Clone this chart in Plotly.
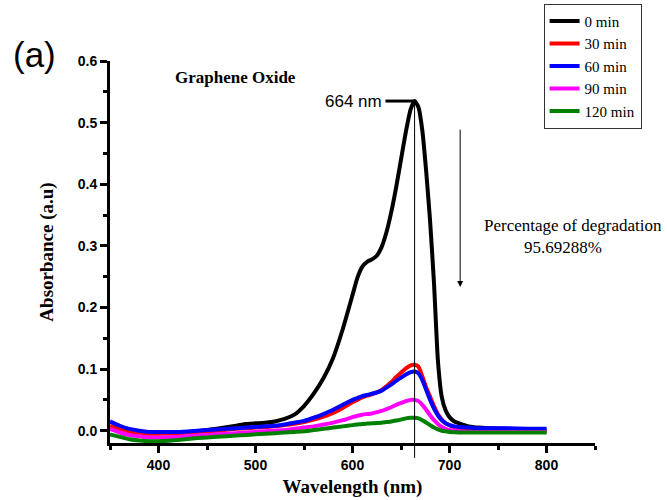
import plotly.graph_objects as go

wavelength = [350, 360, 370, 380, 390, 400, 420, 440, 460, 480, 490, 500, 510, 520, 530, 540,
              550, 560, 570, 580, 590, 600, 605, 610, 615, 620, 625, 630, 635, 640, 645, 650,
              655, 660, 664, 668, 672, 676, 680, 684, 688, 692, 696, 700, 705, 710, 720, 730,
              740, 760, 780, 800]

abs_0min = [0.005, 0.0, -0.003, -0.004, -0.004, -0.004, -0.003, -0.001, 0.003, 0.008, 0.011, 0.012,
            0.013, 0.015, 0.019, 0.026, 0.040, 0.060, 0.085, 0.118, 0.165, 0.220, 0.248, 0.266,
            0.274, 0.278, 0.284, 0.298, 0.322, 0.355, 0.395, 0.440, 0.485, 0.522, 0.535, 0.525,
            0.487, 0.420, 0.340, 0.240, 0.115, 0.055, 0.033, 0.022, 0.015, 0.012, 0.007, 0.005,
            0.004, 0.003, 0.002, 0.002]

abs_30min = [0.008, 0.002, -0.002, -0.004, -0.005, -0.005, -0.004, -0.002, 0.0, 0.003, 0.004, 0.005,
             0.006, 0.007, 0.009, 0.011, 0.014, 0.018, 0.023, 0.029, 0.037, 0.046, 0.050, 0.054,
             0.057, 0.059, 0.062, 0.066, 0.072, 0.079, 0.087, 0.094, 0.101, 0.106, 0.107, 0.104,
             0.088, 0.070, 0.055, 0.040, 0.027, 0.018, 0.012, 0.009, 0.006, 0.004, 0.001, 0.0,
             0.0, 0.0, -0.001, -0.001]

abs_60min = [0.015, 0.008, 0.003, 0.0, -0.002, -0.002, -0.002, 0.0, 0.002, 0.004, 0.005, 0.006,
             0.007, 0.008, 0.010, 0.013, 0.016, 0.021, 0.027, 0.034, 0.042, 0.050, 0.053, 0.056,
             0.058, 0.060, 0.062, 0.065, 0.070, 0.075, 0.081, 0.086, 0.091, 0.095, 0.096, 0.093,
             0.082, 0.066, 0.050, 0.036, 0.025, 0.017, 0.012, 0.009, 0.007, 0.006, 0.005, 0.004,
             0.004, 0.004, 0.003, 0.003]

abs_90min = [0.003, -0.003, -0.007, -0.009, -0.011, -0.011, -0.010, -0.008, -0.006, -0.004, -0.003, -0.002,
             -0.001, 0.0, 0.001, 0.003, 0.005, 0.007, 0.010, 0.013, 0.017, 0.022, 0.024, 0.026,
             0.027, 0.028, 0.030, 0.032, 0.035, 0.038, 0.042, 0.045, 0.048, 0.050, 0.050, 0.048,
             0.042, 0.034, 0.025, 0.017, 0.011, 0.006, 0.003, 0.001, 0.0, -0.001, -0.002, -0.002,
             -0.002, -0.002, -0.002, -0.002]

abs_120min = [-0.006, -0.010, -0.014, -0.016, -0.017, -0.017, -0.015, -0.012, -0.010, -0.008, -0.007, -0.006,
              -0.005, -0.004, -0.003, -0.002, -0.001, 0.001, 0.003, 0.005, 0.007, 0.009, 0.010, 0.011,
              0.0115, 0.012, 0.0125, 0.013, 0.014, 0.015, 0.0165, 0.018, 0.020, 0.021, 0.021, 0.020,
              0.017, 0.013, 0.009, 0.005, 0.002, 0.0, -0.001, -0.002, -0.0025, -0.003, -0.003, -0.003,
              -0.003, -0.003, -0.003, -0.003]

series_names = ["0 min", "30 min", "60 min", "90 min", "120 min"]
series_values = [abs_0min, abs_30min, abs_60min, abs_90min, abs_120min]
series_colors = ["#000000", "#ff0000", "#0000ff", "#ff00ff", "#008000"]

peak_nm = 664
peak_abs = 0.535
peak_label = "664 nm"
arrow_top = 0.491
arrow_bottom = 0.233
arrow_nm = 711

x_range = [350, 850]
y_range = [-0.02, 0.6]

SERIF = "Liberation Serif, Times New Roman, serif"
SANS = "Liberation Sans, Arial, sans-serif"

fig = go.Figure()
for name, vals, col in zip(series_names, series_values, series_colors):
    fig.add_trace(go.Scatter(x=wavelength, y=vals, mode="lines", name=name,
                             line=dict(color=col, width=4, shape="spline", smoothing=0.5)))

def paper_y(v):
    return (v - y_range[0]) / (y_range[1] - y_range[0])

# vertical marker line through the peak (extends below axis)
fig.add_shape(type="line", xref="x", yref="paper", x0=peak_nm, x1=peak_nm,
              y0=-0.039, y1=paper_y(peak_abs), line=dict(color="black", width=1))
# horizontal leader line to the peak label
fig.add_shape(type="line", xref="x", yref="y", x0=634, x1=peak_nm, y0=peak_abs, y1=peak_abs,
              line=dict(color="black", width=3))

fig.add_annotation(x=634, y=peak_abs, xref="x", yref="y", text=peak_label, showarrow=False,
                   xanchor="right", yanchor="middle", xshift=-1,
                   font=dict(family=SANS, size=17, color="black"))

fig.add_annotation(x=arrow_nm, y=arrow_bottom, ax=arrow_nm, ay=arrow_top, xref="x", yref="y",
                   axref="x", ayref="y", text="", showarrow=True, arrowhead=2, arrowsize=1.2,
                   arrowwidth=1, arrowcolor="black")

fig.add_annotation(x=0.955, y=0.570, xref="paper", yref="paper", text="Percentage of degradation",
                   showarrow=False, xanchor="center", yanchor="middle",
                   font=dict(family=SERIF, size=17, color="black"))
fig.add_annotation(x=0.934, y=0.512, xref="paper", yref="paper", text="95.69288%",
                   showarrow=False, xanchor="center", yanchor="middle",
                   font=dict(family=SERIF, size=17, color="black"))

fig.add_annotation(x=0.258, y=0.957, xref="paper", yref="paper", text="<b>Graphene Oxide</b>",
                   showarrow=False, xanchor="center", yanchor="middle",
                   font=dict(family=SERIF, size=17, color="black"))

fig.add_annotation(x=-0.155, y=1.0175, xref="paper", yref="paper", text="(a)",
                   showarrow=False, xanchor="center", yanchor="middle",
                   font=dict(family=SANS, size=35, color="black"))

axis_common = dict(showgrid=False, zeroline=False, showline=True, linecolor="black", linewidth=3,
                   ticks="outside", ticklen=7, tickwidth=3, tickcolor="black",
                   tickfont=dict(family=SANS, size=14, color="black", weight="bold"),
                   mirror=False)

fig.update_layout(
    width=667, height=500,
    margin=dict(l=110, r=72, t=61, b=57, autoexpand=False),
    paper_bgcolor="white", plot_bgcolor="white",
    xaxis=dict(range=x_range, dtick=100, tick0=400,
               minor=dict(dtick=50, ticks="outside", ticklen=4, tickwidth=3, tickcolor="black"),
               title=dict(text="<b>Wavelength (nm)</b>", standoff=8,
                          font=dict(family=SERIF, size=19, color="black")),
               **axis_common),
    yaxis=dict(range=y_range, dtick=0.1, tick0=0, tickformat=".1f",
               minor=dict(dtick=0.05, ticks="outside", ticklen=4, tickwidth=3, tickcolor="black"),
               title=dict(text="<b>Absorbance (a.u)</b>", standoff=20,
                          font=dict(family=SERIF, size=19, color="black")),
               **axis_common),
    legend=dict(x=0.894, y=1.15, xanchor="left", yanchor="top", bgcolor="white",
                bordercolor="#333333", borderwidth=1, tracegroupgap=0,
                font=dict(family=SERIF, size=15, color="black")),
    showlegend=True,
)

fig.write_html("out.html")
